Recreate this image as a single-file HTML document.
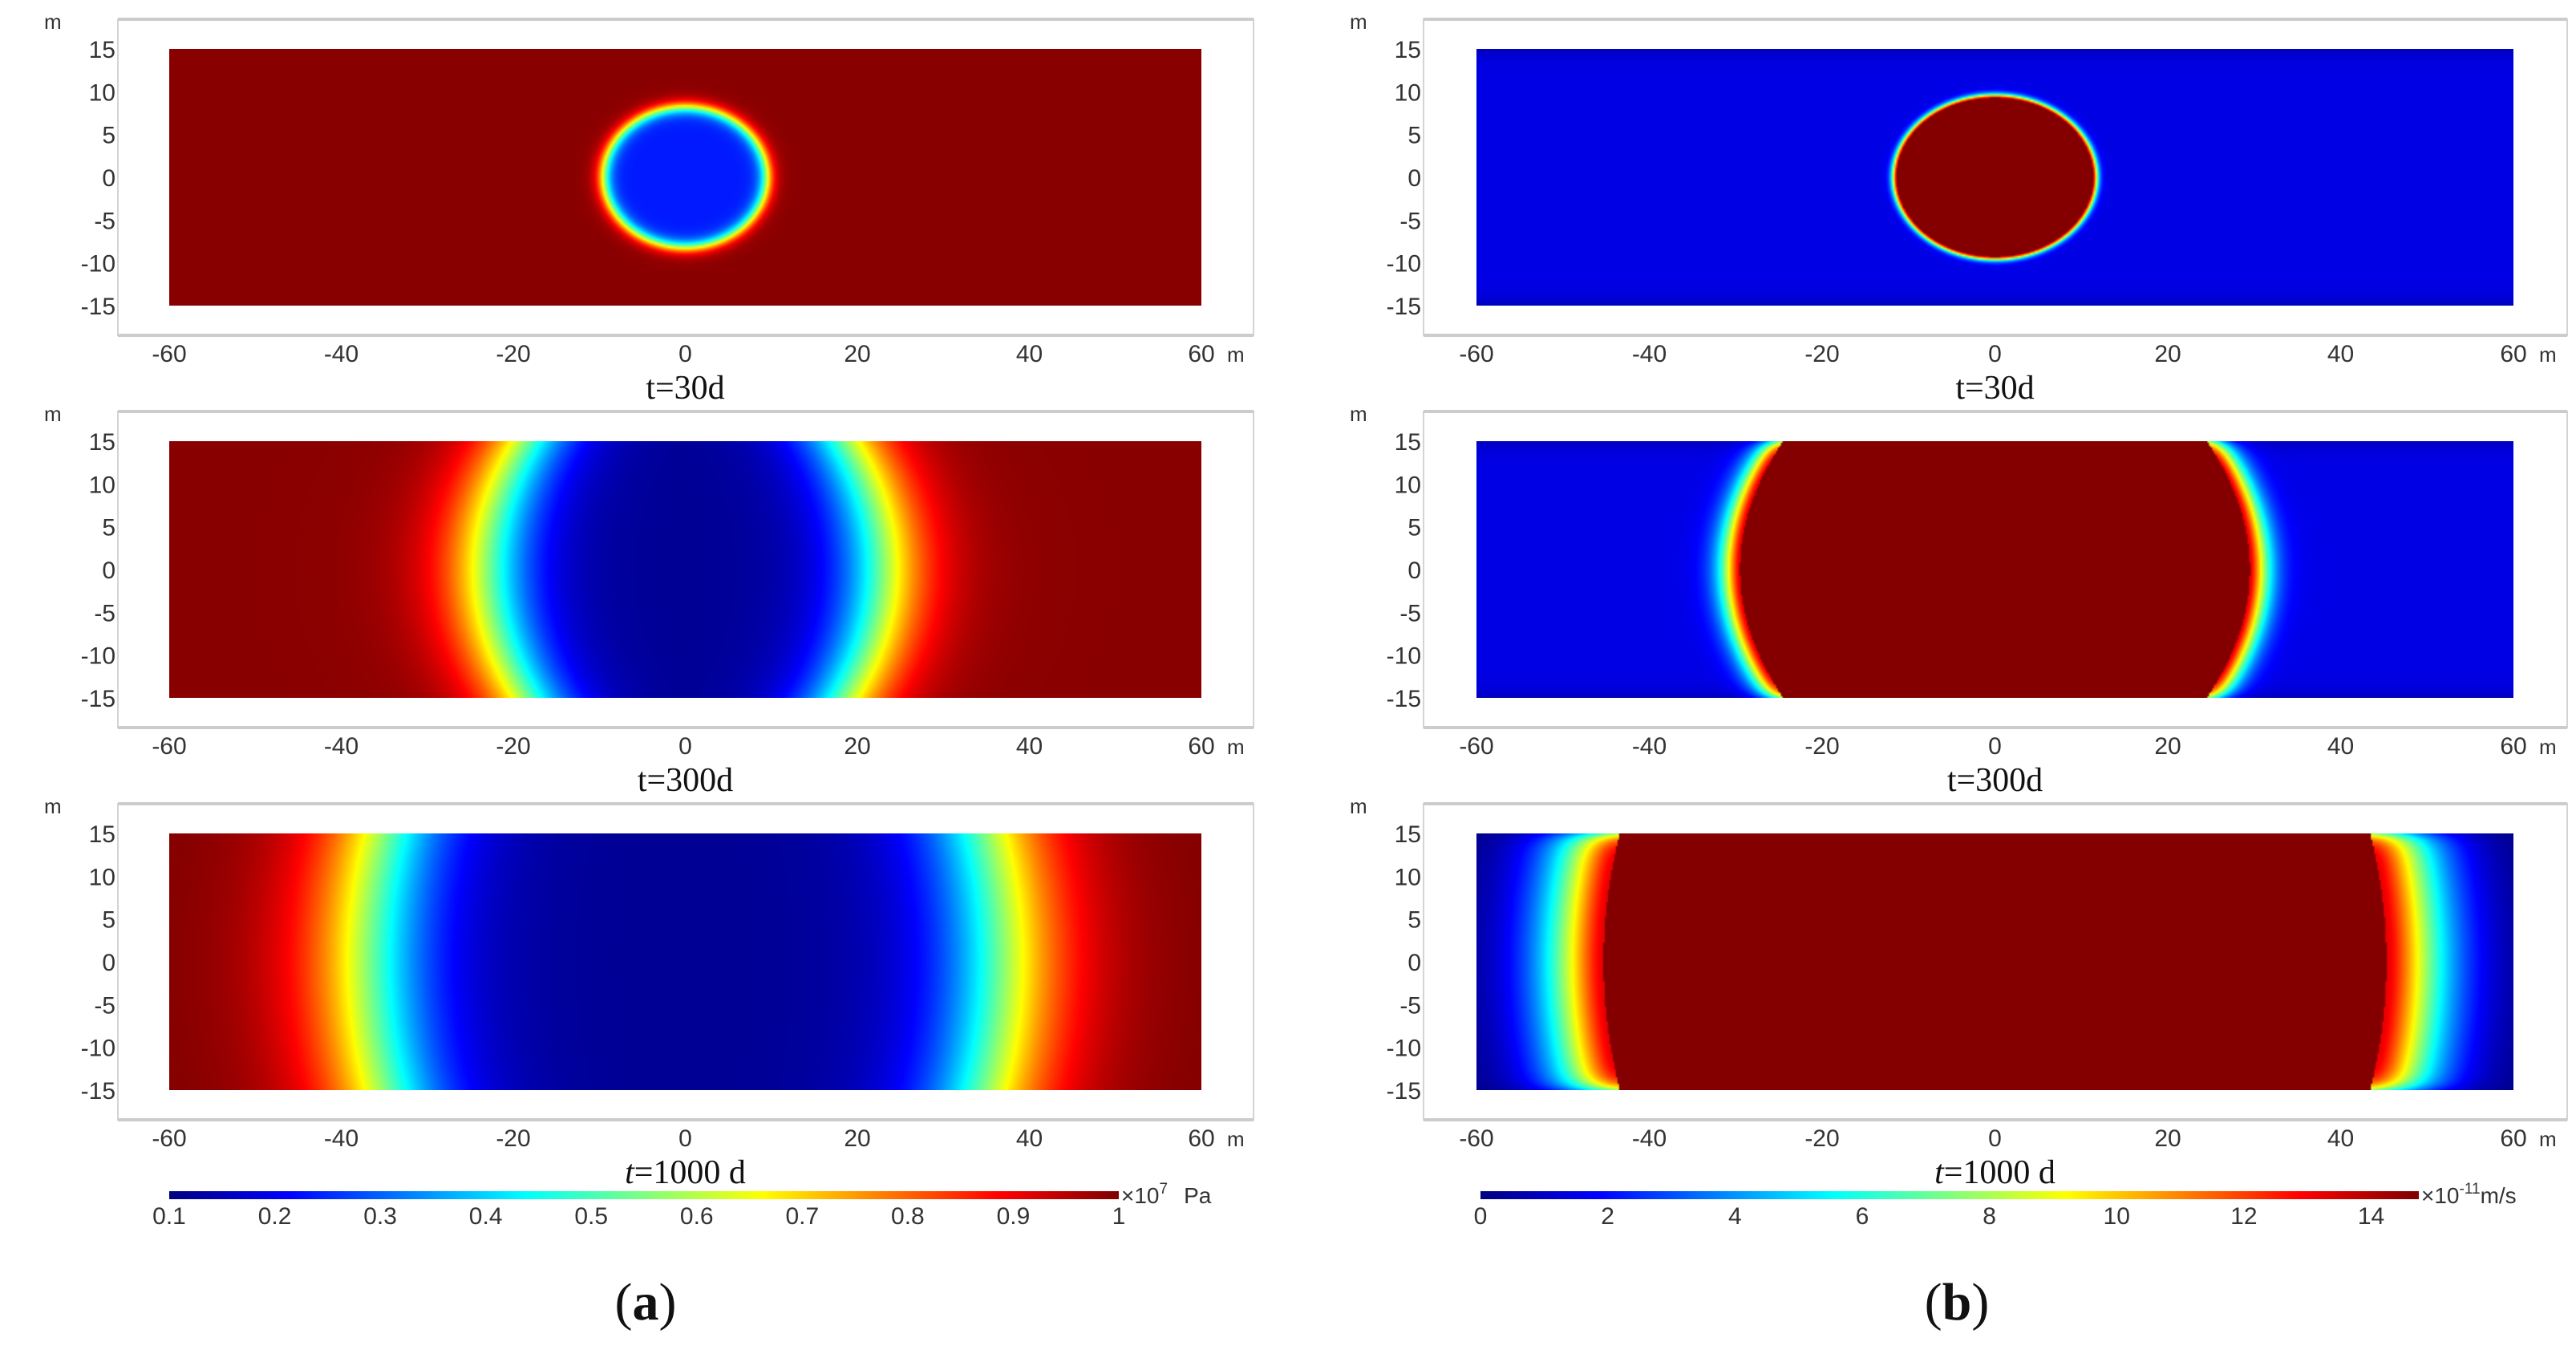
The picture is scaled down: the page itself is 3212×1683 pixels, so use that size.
<!DOCTYPE html>
<html><head><meta charset="utf-8">
<style>
html,body{margin:0;padding:0;background:#fff;}
#root{position:relative;width:3212px;height:1683px;overflow:hidden;background:#fff;}
canvas{position:absolute;}
svg{position:absolute;left:0;top:0;}
text{font-family:"Liberation Sans Narrow","Liberation Sans",sans-serif;fill:#333;}
.ser{font-family:"Liberation Serif",serif;fill:#111;}
</style></head>
<body>
<div id="root">
<svg id="svg" width="3212" height="1683"></svg>
</div>
<script>
// ---- data ----
const xTicks = [-60,-40,-20,0,20,40,60];
const yTicks = [15,10,5,0,-5,-10,-15];
const rowTitles = ["t=30d","t=300d","t=1000 d"];
const pressTicks = [0.1,0.2,0.3,0.4,0.5,0.6,0.7,0.8,0.9,1];
const velTicks = [0,2,4,6,8,10,12,14];
// pressure panels (normalized 0..1 colour value)
const pressShape = ["ellipse","front","front"];
const pressFrontMid = [9.5,23,37];
const pressFrontEdge = [8.2,18.5,35];
const pressWidth = [0.5,3.4,4.8];
const pressInner = [0.15,0.02,0.02];
const pressOuter = [0.99,0.99,1.0];
// velocity panels
const velShape = ["ellipse","front","front"];
const velFrontMid = [11.4,29.5,45.3];
const velFrontEdge = [9.3,24.5,43.4];
const velDecay = [0.5,2.3,7];
const velInner = [0.995,0.995,0.995];
const velFloor = [0.1,0.1,0.0];
const velPeak = [0.8,0.8,0.9];

// ---- layout ----
const rowTop = [61,550,1039], dataH = 320;
const panels = [
  {frameL:147, frameR:1563, x0:211, x1:1498},
  {frameL:1775, frameR:3201, x0:1841, x1:3134}
];
function jet(v){
  v=Math.max(0,Math.min(1,v));
  const r=Math.max(0,Math.min(1,1.5-Math.abs(4*v-3)));
  const g=Math.max(0,Math.min(1,1.5-Math.abs(4*v-2)));
  const b=Math.max(0,Math.min(1,1.5-Math.abs(4*v-1)));
  return [r*255|0,g*255|0,b*255|0];
}
function frontDist(shape,mid,edge,x,y){
  if(shape==="ellipse"){
    const q=Math.sqrt((x/mid)**2+(y/edge)**2);
    return (q-1)*(mid+edge)/2;
  }
  const f=mid+(edge-mid)*(y/15)**2;
  return Math.abs(x)-f;
}
function pressVal(i,x,y){
  const d=frontDist(pressShape[i],pressFrontMid[i],pressFrontEdge[i],x,y);
  const s=1/(1+Math.exp(-d/pressWidth[i]));
  return pressInner[i]+(pressOuter[i]-pressInner[i])*s;
}
function velVal(i,x,y){
  const d=frontDist(velShape[i],velFrontMid[i],velFrontEdge[i],x,y);
  if(d<0) return velInner[i];
  const edge=1-0.45*Math.exp(-(15-Math.abs(y))/0.8);
  return (velFloor[i]+velPeak[i]*Math.exp(-Math.pow(d/velDecay[i],1.5)))*edge;
}
const root=document.getElementById('root');
const svg=document.getElementById('svg');
const NS="http://www.w3.org/2000/svg";
function mk(tag,attrs,txt){const e=document.createElementNS(NS,tag);for(const k in attrs)e.setAttribute(k,attrs[k]);if(txt!==undefined)e.textContent=txt;svg.appendChild(e);return e;}

for(let p=0;p<2;p++){
  const P=panels[p];
  const W=P.x1-P.x0;
  const sx=v=>P.x0+(v+60)/120*W;
  for(let r=0;r<3;r++){
    const top=rowTop[r];
    const sy=v=>top+(15-v)/30*dataH;
    const fr=mk('rect',{x:P.frameL,y:top-37,width:P.frameR-P.frameL,height:dataH+74,fill:'none',stroke:'#d4d4d4','stroke-width':2});
    
    
    mk('line',{x1:P.frameL,x2:P.frameR,y1:top-37,y2:top-37,stroke:'#ccc','stroke-width':4});
    mk('line',{x1:P.frameL,x2:P.frameR,y1:top+dataH+37,y2:top+dataH+37,stroke:'#ccc','stroke-width':4});
    const c=document.createElement('canvas');
    c.width=Math.round(W/2);c.height=dataH/2;
    c.style.left=P.x0+'px';c.style.top=top+'px';c.style.width=W+'px';c.style.height=dataH+'px';
    
    
    const ctx=c.getContext('2d');const img=ctx.createImageData(c.width,c.height);
    for(let j=0;j<c.height;j++){
      const y=15-(j+0.5)/c.height*30;
      for(let i=0;i<c.width;i++){
        const x=-60+(i+0.5)/c.width*120;
        const v=p===0?pressVal(r,x,y):velVal(r,x,y);
        const col=jet(v);const k=(j*c.width+i)*4;
        img.data[k]=col[0];img.data[k+1]=col[1];img.data[k+2]=col[2];img.data[k+3]=255;
      }
    }
    ctx.putImageData(img,0,0);
    root.insertBefore(c,svg);
    yTicks.forEach(t=>{
      const e=mk('text',{x:P.frameL-3,y:sy(t)+11,'font-size':30,'text-anchor':'end'},String(t));
      
      
    });
    const ym=mk('text',{x:P.frameL-92,y:top-25,'font-size':26},'m');
    
    
    xTicks.forEach(t=>{
      const e=mk('text',{x:sx(t),y:top+dataH+70,'font-size':30,'text-anchor':'middle'},String(t));
      
      
    });
    const xm=mk('text',{x:sx(60)+32,y:top+dataH+70,'font-size':26},'m');
    
    
    const tt=mk('text',{x:sx(0),y:top+dataH+116,'font-size':42,'text-anchor':'middle','class':'ser'});
    
    
    const parts=rowTitles[r].split('=');
    const ts=document.createElementNS(NS,'tspan');ts.textContent=parts[0];if(r===2)ts.setAttribute('font-style','italic');tt.appendChild(ts);
    const ts2=document.createElementNS(NS,'tspan');ts2.textContent='='+parts[1];tt.appendChild(ts2);
  }
}
function colorbar(x0,x1,ticks,tmin,tmax,name){
  const c=document.createElement('canvas');c.width=x1-x0;c.height=1;
  c.style.left=x0+'px';c.style.top='1485px';c.style.width=(x1-x0)+'px';c.style.height='10px';
  
  
  const ctx=c.getContext('2d');const img=ctx.createImageData(c.width,1);
  for(let i=0;i<c.width;i++){const col=jet(i/(c.width-1));img.data[i*4]=col[0];img.data[i*4+1]=col[1];img.data[i*4+2]=col[2];img.data[i*4+3]=255;}
  ctx.putImageData(img,0,0);root.insertBefore(c,svg);
  ticks.forEach(t=>{
    const x=x0+(t-tmin)/(tmax-tmin)*(x1-x0);
    const e=mk('text',{x:x,y:1526,'font-size':30,'text-anchor':'middle'},String(t));
    
    
  });
}
colorbar(211,1395,pressTicks,0.1,1,'pressure-colorbar');
colorbar(1846,3016,velTicks,0,14.75,'velocity-colorbar');
let u=mk('text',{x:1398,y:1500,'font-size':28},'×10');


let su=document.createElementNS(NS,'tspan');su.setAttribute('dy','-12');su.setAttribute('font-size','19');su.textContent='7';u.appendChild(su);
let su2=document.createElementNS(NS,'tspan');su2.setAttribute('dy','12');su2.setAttribute('dx','20');su2.textContent='Pa';u.appendChild(su2);
u=mk('text',{x:3019,y:1500,'font-size':28},'×10');


su=document.createElementNS(NS,'tspan');su.setAttribute('dy','-12');su.setAttribute('font-size','19');su.textContent='-11';u.appendChild(su);
su2=document.createElementNS(NS,'tspan');su2.setAttribute('dy','12');su2.textContent='m/s';u.appendChild(su2);
let L=mk('text',{x:805,y:1645,'font-size':66,'text-anchor':'middle','class':'ser'});


L.innerHTML='(<tspan font-weight="bold">a</tspan>)';
L=mk('text',{x:2440,y:1645,'font-size':66,'text-anchor':'middle','class':'ser'});


L.innerHTML='(<tspan font-weight="bold">b</tspan>)';
</script>
</body></html>
